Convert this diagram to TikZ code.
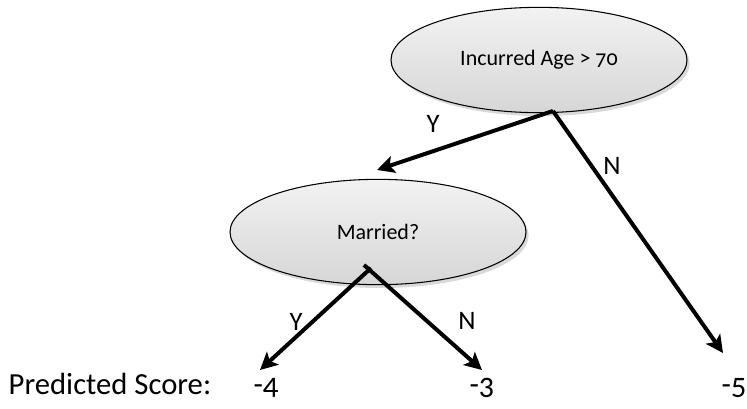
\documentclass[tikz,border=0pt]{standalone}
\usepackage{fontspec}
\setmainfont[Numbers=OldStyle]{Carlito}
\usetikzlibrary{arrows.meta,shapes.geometric,shadows}

\begin{document}
\begin{tikzpicture}[x=0.75pt,y=-0.75pt]
	\useasboundingbox (0,0) rectangle (747,408);

	\begin{scope}[every node/.style={ellipse,draw,thick,inner sep=0pt,
		minimum width=222pt,minimum height=79pt,
		top color=gray!10,bottom color=gray!32,
		drop shadow={shadow xshift=2pt,shadow yshift=-2.5pt,opacity=.3},
		font=\fontsize{16.5}{20}\selectfont}]
		\node (age) at (539,60) {Incurred Age > 70};
		\node (married) at (378,232) {Married?};
	\end{scope}

	\begin{scope}[every node/.style={font=\fontsize{23}{27}\selectfont}]
		\node [anchor=base west] (pred) at (4,394) {Predicted Score:};
		\node [anchor=base] (leafA) at (266,394) {-4};
		\node [anchor=base] (leafB) at (482,394) {-3};
		\node [anchor=base] (leafC) at (734,394) {-5};
	\end{scope}

	% where the branches leave the ellipses and where the tips stop
	\coordinate (ageFoot) at (553,111);
	\coordinate (marFootY) at (371,268);
	\coordinate (marFootN) at (364,265);
	\coordinate (tipY) at (377,170);
	\coordinate (tipN) at (723,353);
	\coordinate (tipA) at (260,370);
	\coordinate (tipB) at (482,370);

	\begin{scope}[every edge/.style={draw,line width=3pt,
		-{Stealth[length=13pt,width=13pt,inset=3pt]}}]
		\path (ageFoot) edge (tipY);
		\path (ageFoot) edge (tipN);
		\path (marFootY) edge (tipA);
		\path (marFootN) edge (tipB);
	\end{scope}

	\begin{scope}[every node/.style={font=\fontsize{20}{24}\selectfont}]
		\node (ageY) at (433,124) {Y};
		\node (ageN) at (612,166) {N};
		\node (marY) at (296,322) {Y};
		\node (marN) at (467,321) {N};
	\end{scope}
\end{tikzpicture}
\end{document}
